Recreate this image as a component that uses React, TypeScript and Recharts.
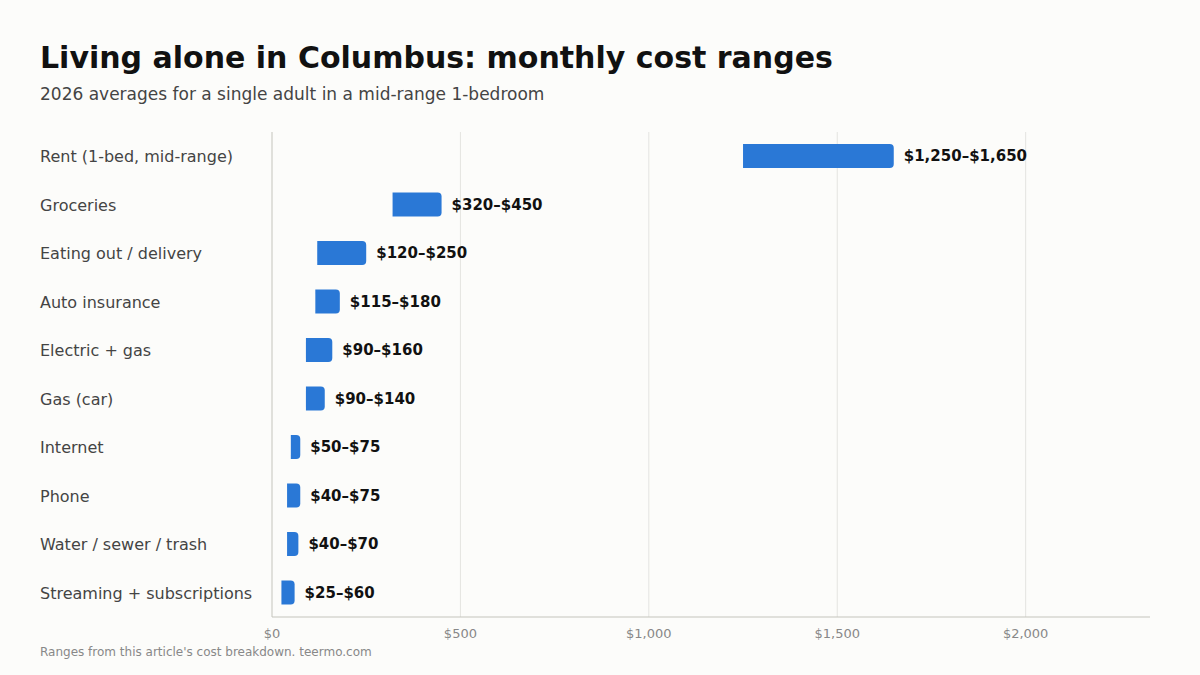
import React from "react";
import { BarChart, Bar, XAxis, YAxis, CartesianGrid, LabelList } from "recharts";

const categories = [
  "Rent (1-bed, mid-range)",
  "Groceries",
  "Eating out / delivery",
  "Auto insurance",
  "Electric + gas",
  "Gas (car)",
  "Internet",
  "Phone",
  "Water / sewer / trash",
  "Streaming + subscriptions",
];
const lowValues = [1250, 320, 120, 115, 90, 90, 50, 40, 40, 25];
const highValues = [1650, 450, 250, 180, 160, 140, 75, 75, 70, 60];
const xTicks = [0, 500, 1000, 1500, 2000];
const gridValues = [500, 1000, 1500, 2000];

const data = categories.map((name, i) => ({
  name,
  range: [lowValues[i], highValues[i]],
  low: lowValues[i],
  high: highValues[i],
}));

const FONT = "'DejaVu Sans', sans-serif";
const money = (v: number) => "$" + v.toLocaleString("en-US");

const CategoryTick = (props: any) => {
  const { y, payload } = props;
  return (
    <text x={40} y={y} dy={6} textAnchor="start" fontSize={16} fill="#444" fontFamily={FONT}>
      {payload.value}
    </text>
  );
};

const RangeLabel = (props: any) => {
  const { x, y, width, height, index } = props;
  return (
    <text
      x={x + width + 10}
      y={y + height / 2}
      dy={5}
      textAnchor="start"
      fontSize={15}
      fontWeight="bold"
      fill="#111"
      fontFamily={FONT}
    >
      {money(lowValues[index]) + "–" + money(highValues[index])}
    </text>
  );
};

export default function App() {
  return (
    <div
      style={{
        position: "fixed",
        left: 0,
        top: 0,
        width: 1200,
        height: 675,
        background: "#fcfcfa",
        fontFamily: FONT,
        overflow: "hidden",
      }}
    >
      <div style={{ position: "absolute", left: 40, top: 43, fontSize: 30, lineHeight: "30px", fontWeight: "bold", color: "#111" }}>
        Living alone in Columbus: monthly cost ranges
      </div>
      <div style={{ position: "absolute", left: 40, top: 86, fontSize: 17, lineHeight: "17px", color: "#444" }}>
        2026 averages for a single adult in a mid-range 1-bedroom
      </div>
      <div style={{ position: "absolute", left: 0, top: 0 }}>
        <BarChart
          width={1200}
          height={675}
          data={data}
          layout="vertical"
          margin={{ top: 132, right: 50, bottom: 28, left: 40 }}
          barCategoryGap="50%"
        >
          <CartesianGrid
            horizontal={false}
            stroke="#e4e4e0"
            verticalValues={gridValues}
          />
          <XAxis
            type="number"
            domain={[0, 2330]}
            ticks={xTicks}
            tickFormatter={money}
            tickLine={false}
            stroke="#c4c4bc"
            tick={{ fill: "#888", fontSize: 13, fontFamily: FONT }}
            tickMargin={6}
            height={30}
            allowDataOverflow
          />
          <YAxis
            type="category"
            dataKey="name"
            width={232}
            tickLine={false}
            stroke="#c4c4bc"
            tick={<CategoryTick />}
            interval={0}
          />
          <Bar dataKey="range" fill="#2a78d6" radius={[0, 4, 4, 0]} barSize={24} isAnimationActive={false}>
            <LabelList dataKey="high" content={<RangeLabel />} />
          </Bar>
        </BarChart>
      </div>
      <div style={{ position: "absolute", left: 40, top: 646, fontSize: 12, lineHeight: "13px", color: "#888" }}>
        Ranges from this article's cost breakdown. teermo.com
      </div>
    </div>
  );
}
